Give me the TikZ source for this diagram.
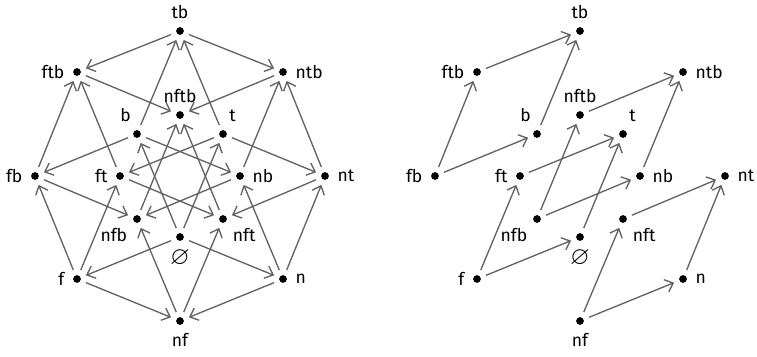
\documentclass[tikz,border=0pt]{standalone}
\usepackage{amsmath,amssymb}
\usepackage{fontspec}
\setmainfont{Fira Sans}
\usetikzlibrary{arrows.meta}

\begin{document}
\begin{tikzpicture}[x=0.02cm,y=-0.02cm,
  dot/.style={circle,fill=black,inner sep=0pt,minimum size=4.4pt,outer sep=3.3pt},
  every label/.style={inner sep=1.5pt},
  arr/.style={draw=black!62,line width=0.75pt,-{Straight Barb[length=4.2pt,width=7.5pt]}}]

\useasboundingbox (0,0) rectangle (757,357);

% -------- left: whole lattice --------

% points
\node[dot,label=above:tb] (tb) at (180,31) {};
\node[dot,label=left:ftb] (ftb) at (77,72) {};
\node[dot,label=right:ntb] (ntb) at (283,72) {};
\node[dot,label=above:nftb] (nftb) at (180,115) {};
\node[dot,label=110:b] (b) at (137,134) {};
\node[dot,label=70:t] (t) at (223,134) {};
\node[dot,label=left:fb] (fb) at (35,176) {};
\node[dot,label=left:ft] (ft) at (120,176) {};
\node[dot,label=right:nb] (nb) at (240,176) {};
\node[dot,label=right:nt] (nt) at (325,176) {};
\node[dot,label=below left:nfb] (nfb) at (137,219) {};
\node[dot,label=below right:nft] (nft) at (223,219) {};
\node[dot,label=below:{\Large$\varnothing$}] (e) at (180,237) {};
\node[dot,label=left:f] (f) at (77,279) {};
\node[dot,label=right:n] (n) at (283,279) {};
\node[dot,label=below:nf] (nf) at (180,321) {};

% adding t or b
\draw[arr] (e) -- (t);
\draw[arr] (e) -- (b);
\draw[arr] (f) -- (ft);
\draw[arr] (f) -- (fb);
\draw[arr] (n) -- (nt);
\draw[arr] (n) -- (nb);
\draw[arr] (nf) -- (nft);
\draw[arr] (nf) -- (nfb);
\draw[arr] (b) -- (tb);
\draw[arr] (t) -- (tb);
\draw[arr] (fb) -- (ftb);
\draw[arr] (ft) -- (ftb);
\draw[arr] (nb) -- (ntb);
\draw[arr] (nt) -- (ntb);
\draw[arr] (nfb) -- (nftb);
\draw[arr] (nft) -- (nftb);

% adding n or f
\draw[arr] (e) -- (f);
\draw[arr] (e) -- (n);
\draw[arr] (f) -- (nf);
\draw[arr] (n) -- (nf);
\draw[arr] (t) -- (ft);
\draw[arr] (t) -- (nt);
\draw[arr] (ft) -- (nft);
\draw[arr] (nt) -- (nft);
\draw[arr] (b) -- (fb);
\draw[arr] (b) -- (nb);
\draw[arr] (fb) -- (nfb);
\draw[arr] (nb) -- (nfb);
\draw[arr] (tb) -- (ftb);
\draw[arr] (tb) -- (ntb);
\draw[arr] (ftb) -- (nftb);
\draw[arr] (ntb) -- (nftb);

% -------- right: four squares --------

% points
\node[dot,label=above:tb] (rtb) at (580,31) {};
\node[dot,label=left:ftb] (rftb) at (477,72) {};
\node[dot,label=right:ntb] (rntb) at (683,72) {};
\node[dot,label=above:nftb] (rnftb) at (580,115) {};
\node[dot,label=110:b] (rb) at (537,134) {};
\node[dot,label=70:t] (rt) at (623,134) {};
\node[dot,label=left:fb] (rfb) at (435,176) {};
\node[dot,label=left:ft] (rft) at (520,176) {};
\node[dot,label=right:nb] (rnb) at (640,176) {};
\node[dot,label=right:nt] (rnt) at (725,176) {};
\node[dot,label=below left:nfb] (rnfb) at (537,219) {};
\node[dot,label=below right:nft] (rnft) at (623,219) {};
\node[dot,label=below:{\Large$\varnothing$}] (re) at (580,237) {};
\node[dot,label=left:f] (rf) at (477,279) {};
\node[dot,label=right:n] (rn) at (683,279) {};
\node[dot,label=below:nf] (rnf) at (580,321) {};

% fb square
\draw[arr] (rfb) -- (rftb);
\draw[arr] (rftb) -- (rtb);
\draw[arr] (rfb) -- (rb);
\draw[arr] (rb) -- (rtb);

% nfb square
\draw[arr] (rnfb) -- (rnftb);
\draw[arr] (rnftb) -- (rntb);
\draw[arr] (rnfb) -- (rnb);
\draw[arr] (rnb) -- (rntb);

% f square
\draw[arr] (rf) -- (rft);
\draw[arr] (rft) -- (rt);
\draw[arr] (rf) -- (re);
\draw[arr] (re) -- (rt);

% nf square
\draw[arr] (rnf) -- (rnft);
\draw[arr] (rnft) -- (rnt);
\draw[arr] (rnf) -- (rn);
\draw[arr] (rn) -- (rnt);

\end{tikzpicture}
\end{document}
